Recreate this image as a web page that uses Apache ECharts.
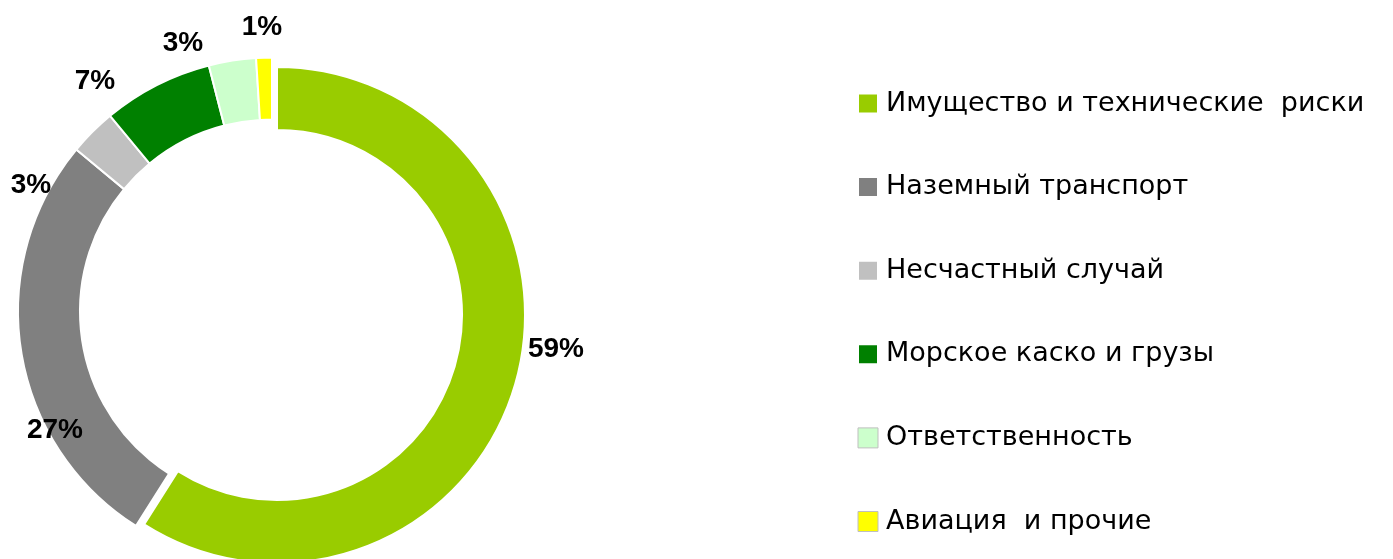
<!DOCTYPE html>
<html>
<head>
<meta charset="utf-8">
<script src="https://cdn.jsdelivr.net/npm/echarts@6/dist/echarts.min.js"></script>
<style>
html,body{margin:0;padding:0;background:#fff;}
#chart{width:1393px;height:559px;}
</style>
</head>
<body>
<div id="chart"></div>
<script>
// ---- data ----
const categories = [
  'Имущество и технические  риски',
  'Наземный транспорт',
  'Несчастный случай',
  'Морское каско и грузы',
  'Ответственность',
  'Авиация  и прочие'
];
const shares = [59, 27, 3, 7, 3, 1];
const colors = ['#99CC00', '#808080', '#C0C0C0', '#008000', '#CCFFCC', '#FFFF00'];

// ---- layout (styles / positions, not data) ----
const labelAnchors = [[556, 349], [55, 430], [31, 185], [95, 81], [183, 43], [262, 27]];
const ringCenter = [272, 311.5];
const ringRadius = [192, 254];
const explodedCenter = [277, 315];
const explodedRadius = [185, 248];

const total = shares.reduce((a, b) => a + b, 0);

const mainData = categories.map((name, i) => ({
  name: name,
  value: shares[i],
  itemStyle: i === 0
    ? { color: 'rgba(0,0,0,0)', borderWidth: 0 }
    : { color: colors[i] }
}));

const explodedData = [
  { name: categories[0], value: shares[0], itemStyle: { color: colors[0] } },
  { name: '__rest', value: total - shares[0], itemStyle: { color: 'rgba(0,0,0,0)', borderWidth: 0 } }
];

const legendData = categories.map((name, i) => ({
  name: name,
  itemStyle: (i >= 4) ? { color: colors[i], borderColor: '#BFBFBF', borderWidth: 1 } : { color: colors[i] }
}));

const chart = echarts.init(document.getElementById('chart'), null, { renderer: 'canvas' });
chart.setOption({
  animation: false,
  backgroundColor: '#ffffff',
  legend: {
    orient: 'vertical',
    left: 857,
    top: 90,
    height: 480,
    padding: 0,
    itemWidth: 20,
    itemHeight: 20,
    itemGap: 56.6,
    icon: 'rect',
    selectedMode: false,
    data: legendData,
    textStyle: {
      fontFamily: "'DejaVu Sans', sans-serif",
      fontSize: 27,
      lineHeight: 25,
      color: '#000',
      padding: [0, 0, 0, 3]
    }
  },
  series: [
    {
      type: 'pie',
      z: 2,
      center: explodedCenter,
      radius: explodedRadius,
      startAngle: 90,
      clockwise: true,
      silent: true,
      label: { show: false },
      labelLine: { show: false },
      itemStyle: { borderColor: '#fff', borderWidth: 2 },
      data: explodedData
    },
    {
      type: 'pie',
      z: 3,
      center: ringCenter,
      radius: ringRadius,
      startAngle: 90,
      clockwise: true,
      silent: true,
      avoidLabelOverlap: false,
      itemStyle: { borderColor: '#fff', borderWidth: 2 },
      label: {
        show: true,
        position: 'inside',
        formatter: p => p.value + '%',
        fontFamily: "'Liberation Sans', Arial, sans-serif",
        fontWeight: 'bold',
        fontSize: 28,
        color: '#000'
      },
      labelLine: { show: false },
      labelLayout: function (params) {
        const a = labelAnchors[params.dataIndex];
        return { x: a[0], y: a[1], align: 'center', verticalAlign: 'middle', hideOverlap: false, moveOverlap: false };
      },
      data: mainData
    }
  ]
});
</script>
</body>
</html>
